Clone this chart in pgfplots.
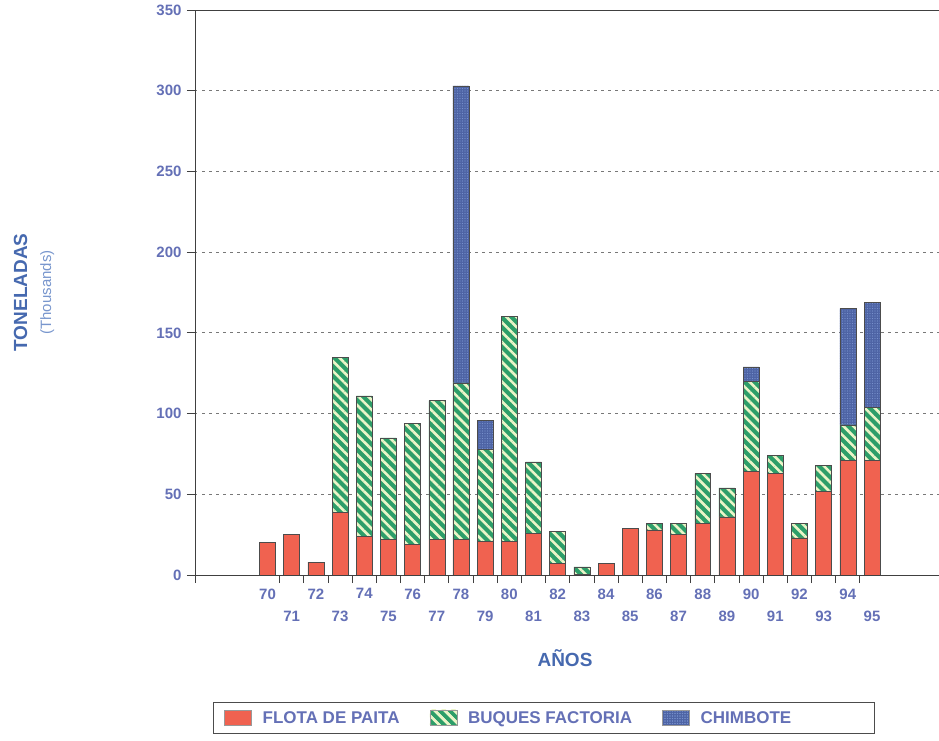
\documentclass[border=0pt]{standalone}
\usepackage{fontspec}
\setmainfont{Liberation Sans}
\usepackage{pgfplots}
\pgfplotsset{compat=1.18}
\usetikzlibrary{patterns.meta}
\definecolor{redC}{RGB}{240,98,80}
\definecolor{greenC}{RGB}{45,158,105}
\definecolor{stripeC}{RGB}{235,245,200}
\definecolor{blueC}{RGB}{78,100,165}
\definecolor{dotC}{RGB}{120,145,205}
\definecolor{tickC}{RGB}{100,112,182}
\definecolor{labC}{RGB}{70,105,175}
\definecolor{thouC}{RGB}{120,150,205}
\definecolor{gridC}{RGB}{120,120,120}
\begin{document}
\begin{tikzpicture}[x=1pt,y=1pt]
\useasboundingbox (0,0) rectangle (939,741);
\begin{axis}[
  at={(195pt,166pt)}, anchor=south west,
  scale only axis, width=747pt, height=565pt,
  xmin=-3, xmax=27.895, ymin=0, ymax=350,
  axis line style={black!75, line width=0.9pt},
  ybar stacked, bar width=0.66,
  ytick={0,50,...,350},
  ytick pos=left,
  ytick align=outside,
  ytick style={draw=black!75, line width=0.9pt},
  yticklabel style={font=\bfseries\fontsize{15}{18}\selectfont, text=tickC, xshift=-2pt},
  /pgf/number format/assume math mode=true,
  ymajorgrids,
  grid style={gridC, line width=0.8pt, dash pattern=on 2.5pt off 4.5pt},
  xtick={0.5,1.5,...,24.5},
  xticklabels={},
  extra x ticks={0,1,...,25},
  extra x tick labels={70,{\vphantom{0}\\71},72,{\vphantom{0}\\73},74,{\vphantom{0}\\75},76,{\vphantom{0}\\77},78,{\vphantom{0}\\79},80,{\vphantom{0}\\81},82,{\vphantom{0}\\83},84,{\vphantom{0}\\85},86,{\vphantom{0}\\87},88,{\vphantom{0}\\89},90,{\vphantom{0}\\91},92,{\vphantom{0}\\93},94,{\vphantom{0}\\95}},
  extra x tick style={grid=none, major tick length=0pt,
     xticklabel style={font=\bfseries\fontsize{15}{22}\selectfont, text=tickC, align=center, anchor=north, yshift=-10pt}},
  xtick pos=bottom,
  tick align=outside,
  tick style={black!75, line width=0.9pt},
  major tick length=8pt,
  xlabel={AÑOS},
  xlabel style={font=\bfseries\fontsize{19}{22}\selectfont, text=labC, at={(axis description cs:0.4953,-0.147)}, anchor=center},
  ylabel={TONELADAS\\[2pt]{\mdseries\fontsize{15}{17}\selectfont\color{thouC}(Thousands)}},
  ylabel style={font=\bfseries\fontsize{19}{22}\selectfont, text=labC, align=center, at={(axis description cs:-0.2153,0.5)}, anchor=center},
  legend columns=3,
  legend style={at={(axis description cs:0.4668,-0.253)}, anchor=center,
    draw=black!70, line width=1pt, inner xsep=11pt, inner ysep=7pt,
    font=\bfseries\fontsize{17}{20}\selectfont, text=tickC,
    /tikz/every odd column/.append style={column sep=9pt},
    /tikz/every even column/.append style={column sep=28pt}},
]
\addplot+[fill=redC, draw=black!70, line width=0.5pt,
  legend image code/.code={\draw[fill=redC, draw=black!40] (0pt,-7pt) rectangle (27pt,8pt);}]
 coordinates {(0,20) (1,25) (2,8) (3,39) (4,24) (5,22) (6,19) (7,22) (8,22) (9,21) (10,21) (11,26) (12,7) (13,0.5) (14,7) (15,29) (16,28) (17,25) (18,32) (19,36) (20,64) (21,63) (22,23) (23,52) (24,71) (25,71)};
\addlegendentry{FLOTA DE PAITA}
\addplot+[fill=greenC, draw=black!70, line width=0.5pt,
  postaction={pattern={Lines[angle=-45,distance=7pt,line width=2.6pt]}, pattern color=stripeC},
  legend image code/.code={\draw[fill=greenC, draw=black!40, postaction={pattern={Lines[angle=-45,distance=7pt,line width=2.6pt]}, pattern color=stripeC}] (0pt,-7pt) rectangle (27pt,8pt);}]
 coordinates {(0,0) (1,0) (2,0) (3,96) (4,87) (5,63) (6,75) (7,86) (8,97) (9,57) (10,139) (11,44) (12,20) (13,4.5) (14,0) (15,0) (16,4) (17,7) (18,31) (19,18) (20,56) (21,11) (22,9) (23,16) (24,22) (25,33)};
\addlegendentry{BUQUES FACTORIA}
\addplot+[fill=blueC, draw=black!70, line width=0.5pt,
  postaction={pattern={Dots[distance=2.5pt,radius=0.55pt]}, pattern color=dotC},
  legend image code/.code={\draw[fill=blueC, draw=black!40, postaction={pattern={Dots[distance=2.5pt,radius=0.55pt]}, pattern color=dotC}] (0pt,-7pt) rectangle (27pt,8pt);}]
 coordinates {(0,0) (1,0) (2,0) (3,0) (4,0) (5,0) (6,0) (7,0) (8,184) (9,18) (10,0) (11,0) (12,0) (13,0) (14,0) (15,0) (16,0) (17,0) (18,0) (19,0) (20,9) (21,0) (22,0) (23,0) (24,72) (25,65)};
\addlegendentry{CHIMBOTE\kern70pt}
\end{axis}
\foreach \v in {0,...,7} \draw[black!75, line width=0.9pt] (187,{166+\v*565/7}) -- (195,{166+\v*565/7});
\draw[black!75, line width=0.9pt] (195,166) -- (195,158);
\end{tikzpicture}
\end{document}
